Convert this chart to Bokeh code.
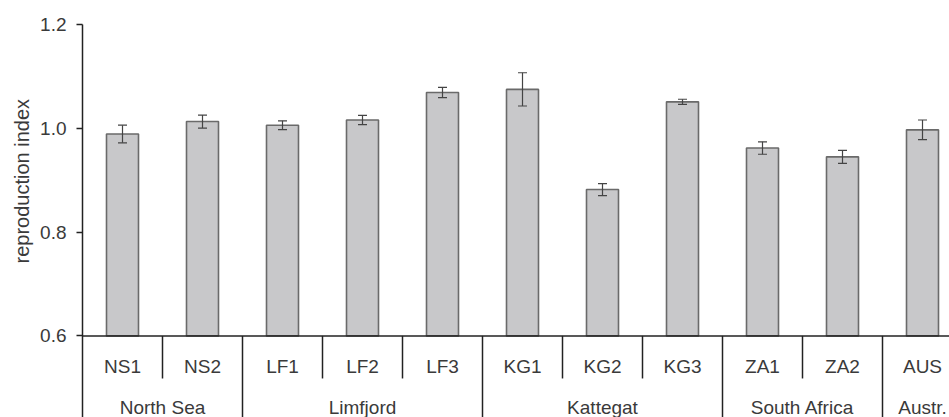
from bokeh.plotting import figure
from bokeh.models import (ColumnDataSource, FixedTicker, Range1d, Whisker, TeeHead,
                          Span, PrintfTickFormatter, Title)
from bokeh.core.properties import value
from bokeh.embed import file_html
from bokeh.resources import INLINE

# Sampling sites, mean reproduction index and its standard error
sites = ["NS1", "NS2", "LF1", "LF2", "LF3", "KG1", "KG2", "KG3", "ZA1", "ZA2", "AUS"]
index_mean = [0.989, 1.013, 1.006, 1.016, 1.069, 1.075, 0.882, 1.051, 0.962, 0.945, 0.997]
index_err = [0.017, 0.0125, 0.0085, 0.009, 0.010, 0.032, 0.0116, 0.005, 0.012, 0.0125, 0.019]

# Regions that group the sites (number of sites in each)
regions = ["North Sea", "Limfjord", "Kattegat", "South Africa", "Austr."]
region_sizes = [2, 3, 3, 2, 1]

y_ticks = [0.6, 0.8, 1.0, 1.2]

# Layout of the label table underneath the bars (in y data units)
BASE = 0.6
Y_TOP = 1.2
Y_BOTTOM = 0.4428
Y_SITE_LABEL = 0.541
Y_SITE_SEP = 0.518
Y_REGION_LABEL = 0.463
X_END = 10.8375

FONT = value("Liberation Sans")
TEXT_COLOR = "#3a3a3a"
LINE_COLOR = "#222222"

xs = [i + 0.5 for i in range(len(sites))]

p = figure(width=949, height=417, output_backend="svg", toolbar_location=None,
           x_range=Range1d(0, X_END), y_range=Range1d(Y_BOTTOM, Y_TOP),
           x_axis_location=None, min_border_left=82, min_border_right=0,
           min_border_top=24, min_border_bottom=0)
p.outline_line_color = None
p.grid.visible = False
p.background_fill_color = "white"
p.border_fill_color = "white"

# Bars
bars = ColumnDataSource(dict(x=xs, top=index_mean,
                             upper=[m + e for m, e in zip(index_mean, index_err)],
                             lower=[m - e for m, e in zip(index_mean, index_err)]))
p.vbar(x="x", top="top", bottom=BASE, width=0.4, source=bars,
       fill_color="#c8c8ca", line_color="#6a6a6a", line_width=1.6)

# Error bars drawn on top of the bars
p.add_layout(Whisker(base="x", upper="upper", lower="lower", source=bars, level="overlay",
                     line_color="#444444", line_width=1.2,
                     upper_head=TeeHead(size=9, line_color="#444444", line_width=1.2),
                     lower_head=TeeHead(size=9, line_color="#444444", line_width=1.2)))

# Baseline of the bars
p.add_layout(Span(location=BASE, dimension="width", line_color=LINE_COLOR, line_width=1.5))

# Separators in the label table
region_edges = []
acc = 0
for n in region_sizes[:-1]:
    acc += n
    region_edges.append(acc)
site_edges = [i for i in range(1, len(sites)) if i not in region_edges]

p.segment(x0=site_edges, y0=[BASE] * len(site_edges), x1=site_edges,
          y1=[Y_SITE_SEP] * len(site_edges), line_color=LINE_COLOR, line_width=1.5)
p.segment(x0=region_edges, y0=[BASE] * len(region_edges), x1=region_edges,
          y1=[Y_BOTTOM - 0.05] * len(region_edges), line_color=LINE_COLOR, line_width=1.5)

# Site labels
p.text(x=xs, y=[Y_SITE_LABEL] * len(sites), text=sites, text_align="center",
       text_baseline="middle", text_font=FONT, text_font_size="19px", text_color=TEXT_COLOR)

# Region labels, centred on their sites
region_x = []
start = 0
for n in region_sizes:
    region_x.append(start + n / 2)
    start += n
p.text(x=region_x, y=[Y_REGION_LABEL] * len(regions), text=regions, text_align="center",
       text_baseline="middle", text_font=FONT, text_font_size="19px", text_color=TEXT_COLOR)

# Y axis
ax = p.yaxis[0]
ax.ticker = FixedTicker(ticks=y_ticks, minor_ticks=[])
ax.formatter = PrintfTickFormatter(format="%.1f")
ax.major_tick_in = 0
ax.major_tick_out = 6
ax.minor_tick_in = 0
ax.minor_tick_out = 0
ax.major_tick_line_color = LINE_COLOR
ax.major_tick_line_width = 1.5
ax.axis_line_color = LINE_COLOR
ax.axis_line_width = 1.5
ax.major_label_standoff = 10
ax.major_label_text_font = "Liberation Sans"
ax.major_label_text_font_size = "19px"
ax.major_label_text_color = TEXT_COLOR

# Axis title on the left, starting from the bottom edge and shifted up so it
# sits beside the 0.6 - 1.2 part of the axis
p.add_layout(Title(text="reproduction index", align="left", offset=154,
                   text_font="Liberation Sans", text_font_size="20px",
                   text_font_style="normal", text_color=TEXT_COLOR,
                   standoff=10), "left")

open("out.html", "w").write(file_html(p, INLINE))
